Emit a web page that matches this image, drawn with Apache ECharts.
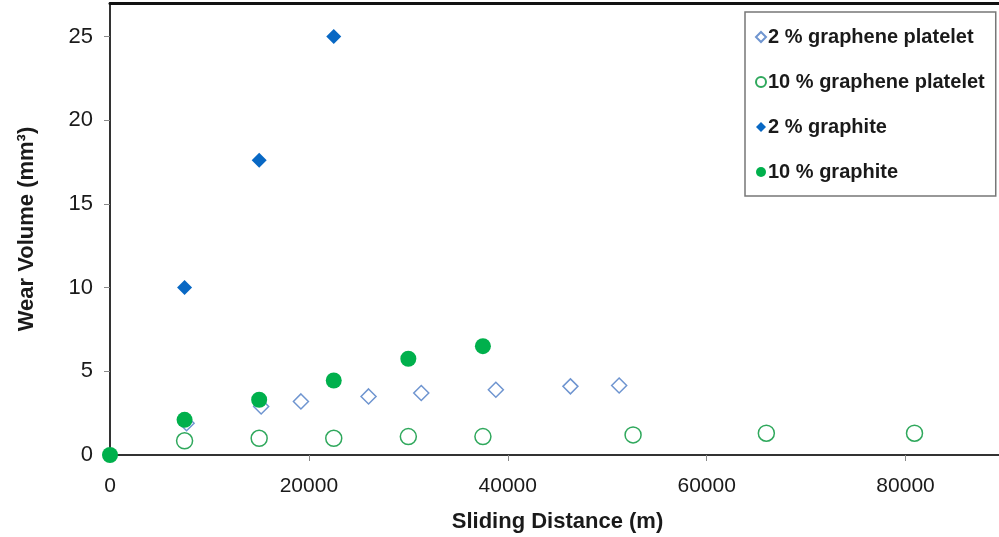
<!DOCTYPE html>
<html>
<head>
<meta charset="utf-8">
<script src="https://cdn.jsdelivr.net/npm/echarts@6/dist/echarts.min.js"></script>
<style>
  html, body { margin: 0; padding: 0; background: #fff; }
  #chart { width: 999px; height: 537px; }
</style>
</head>
<body>
<div id="chart"></div>
<script>
'use strict';
// values: [sliding distance (m), wear volume (mm3)]
var seriesNames = ['2 % graphene platelet', '10 % graphene platelet', '2 % graphite', '10 % graphite'];
var gp2 = [[7700, 1.9], [15200, 2.9], [19200, 3.2], [26000, 3.5], [31300, 3.7], [38800, 3.9], [46300, 4.1], [51200, 4.15]];
var gp10 = [[7500, 0.85], [15000, 1.0], [22500, 1.0], [30000, 1.1], [37500, 1.1], [52600, 1.2], [66000, 1.3], [80900, 1.3]];
var gr2 = [[0, 0], [7500, 10], [15000, 17.6], [22500, 25]];
var gr10 = [[0, 0], [7500, 2.1], [15000, 3.3], [22500, 4.45], [30000, 5.75], [37500, 6.5]];

var font = 'Liberation Sans, Arial, sans-serif';

var option = {
    animation: false,
    textStyle: { fontFamily: font },
    grid: { left: 110, top: 3, width: 895, height: 452, outerBoundsMode: 'none', containLabel: false },
    legend: {
        orient: 'vertical',
        left: 745,
        top: 12,
        padding: [15, 11, 14, 10],
        itemGap: 25,
        itemWidth: 10,
        itemHeight: 10,
        borderColor: '#777',
        borderWidth: 1.5,
        textStyle: { fontSize: 20, fontWeight: 'bold', color: '#1a1a1a', fontFamily: font, padding: [0, 0, 0, -3] },
        data: [
            { name: seriesNames[0], icon: 'diamond' },
            { name: seriesNames[1], icon: 'circle' },
            { name: seriesNames[2], icon: 'diamond' },
            { name: seriesNames[3], icon: 'circle' }
        ]
    },
    xAxis: [{
        type: 'value',
        min: 0,
        max: 90000,
        interval: 20000,
        name: 'Sliding Distance (m)',
        nameLocation: 'middle',
        nameGap: 56,
        nameTextStyle: { fontSize: 22, fontWeight: 'bold', color: '#1a1a1a' },
        axisLine: { lineStyle: { color: '#333', width: 2 } },
        axisTick: { show: true, length: 6, lineStyle: { color: '#888' } },
        axisLabel: { fontSize: 21, color: '#1a1a1a', margin: 21, showMaxLabel: false, formatter: function (v) { return String(v); } },
        splitLine: { show: false }
    }, {
        // thick top frame line
        type: 'value',
        position: 'top',
        min: 0,
        max: 90000,
        axisLine: { show: true, lineStyle: { color: '#111', width: 3 } },
        axisTick: { show: false },
        axisLabel: { show: false },
        splitLine: { show: false }
    }],
    yAxis: {
        type: 'value',
        min: 0,
        max: 27,
        interval: 5,
        name: 'Wear Volume (mm³)',
        nameLocation: 'middle',
        nameGap: 72,
        nameTextStyle: { fontSize: 22, fontWeight: 'bold', color: '#1a1a1a' },
        axisLine: { show: true, lineStyle: { color: '#333', width: 2 } },
        axisTick: { show: true, length: 6, lineStyle: { color: '#888' } },
        axisLabel: { fontSize: 22, color: '#1a1a1a', margin: 17, showMaxLabel: false },
        splitLine: { show: false }
    },
    series: [
        {
            name: seriesNames[0],
            type: 'scatter',
            data: gp2,
            symbol: 'diamond',
            symbolSize: 15,
            clip: false,
            itemStyle: { color: '#fff', borderColor: '#6f95d0', borderWidth: 1.5, opacity: 1 }
        },
        {
            name: seriesNames[1],
            type: 'scatter',
            data: gp10,
            symbol: 'circle',
            symbolSize: 16,
            clip: false,
            itemStyle: { color: '#fff', borderColor: '#2fa85c', borderWidth: 1.5, opacity: 1 }
        },
        {
            name: seriesNames[2],
            type: 'scatter',
            data: gr2,
            symbol: 'diamond',
            symbolSize: 15,
            clip: false,
            itemStyle: { color: '#0868c4', opacity: 1 }
        },
        {
            name: seriesNames[3],
            type: 'scatter',
            data: gr10,
            symbol: 'circle',
            symbolSize: 16,
            clip: false,
            itemStyle: { color: '#00b04c', opacity: 1 }
        }
    ]
};

var chart = echarts.init(document.getElementById('chart'));
chart.setOption(option);
</script>
</body>
</html>
